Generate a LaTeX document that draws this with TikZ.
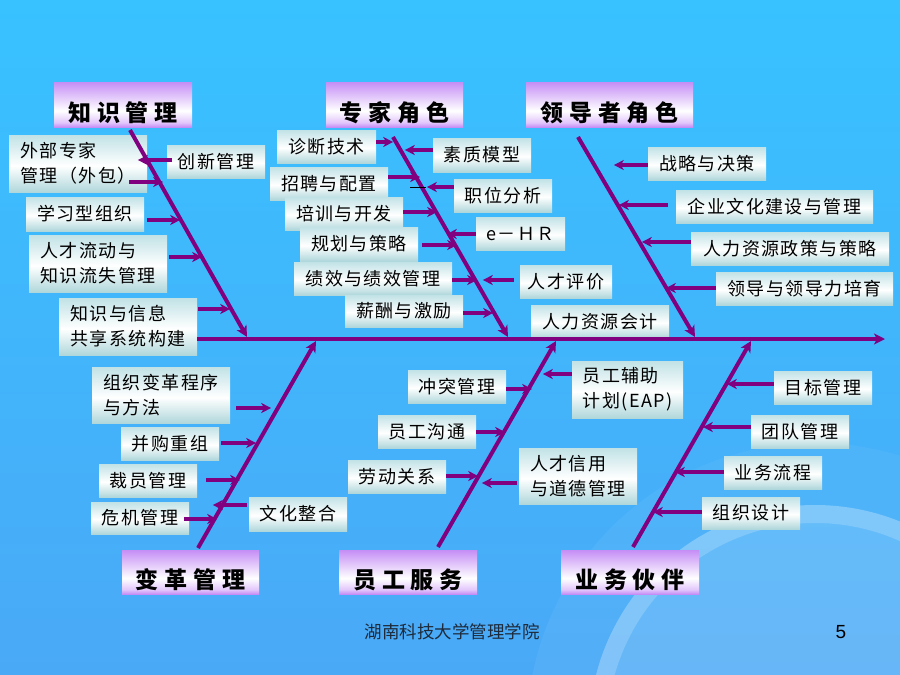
\documentclass[tikz,border=0pt]{standalone}
\usepackage{fontspec}
\usetikzlibrary{arrows.meta,calc}
\newfontfamily\cjk[LetterSpace=8]{Noto Sans CJK SC}
\newfontfamily\cjkt[LetterSpace=25]{Noto Sans CJK SC}
\newfontfamily\cjkf{Noto Sans CJK SC}
\newfontfamily\latf{Liberation Sans}
\definecolor{bgtop}{HTML}{38C2FF}
\definecolor{bgbot}{HTML}{4AA9F7}
\definecolor{fish}{HTML}{800080}
\definecolor{tp}{HTML}{C58EF6}
\definecolor{tpl}{HTML}{E2C6FB}
\definecolor{cbt}{HTML}{C1E2E6}
\definecolor{cbb}{HTML}{B0D7DB}
\definecolor{foot}{HTML}{1E2A3A}
\pgfdeclareverticalshading{titleshade}{100bp}{color(0bp)=(tp); color(25bp)=(tp); color(30bp)=(tpl); color(43bp)=(white); color(75bp)=(tp); color(100bp)=(tp)}
\pgfdeclareverticalshading{boxshade}{100bp}{color(0bp)=(cbb); color(25bp)=(cbb); color(48bp)=(white); color(75bp)=(cbt); color(100bp)=(cbt)}
\tikzset{
  cbox/.style={shading=boxshade, inner sep=0pt, minimum height=33pt, font=\cjk\fontsize{18}{25}\selectfont, align=left, text=black},
  tbox/.style={shading=titleshade, inner sep=0pt, minimum height=45pt, font=\cjkt\bfseries\fontsize{23}{26}\selectfont, text=black},
  bone/.style={draw=fish, line width=4pt, -{Stealth[length=11pt,width=11pt,inset=3pt]}},
  arr/.style={draw=fish, line width=4pt, -{Stealth[length=10pt,width=10pt,inset=3pt]}},
}
\begin{document}
\begin{tikzpicture}[x=1pt,y=-1pt]
\useasboundingbox (0,0) rectangle (900,675);
% background
\fill[top color=bgtop, bottom color=bgbot] (0,0) rectangle (900,675);
\begin{scope}
  \clip (0,0) rectangle (900,675);
  \fill[white, opacity=0.05] (815,731) circle (288pt);
  \fill[white, opacity=0.28, even odd rule] (815,731) circle (226pt) (815,731) circle (208pt);
  \fill[white, opacity=0.12] (815,731) circle (208pt);
\end{scope}

% titles
\node[tbox, minimum width=138pt] (t1) at (123,104.5) {\raisebox{-8pt}[\height][\depth]{知识管理}};
\node[tbox, minimum width=137pt] (t2) at (394.5,104.5) {\raisebox{-8pt}[\height][\depth]{专家角色}};
\node[tbox, minimum width=167pt] (t3) at (609.5,104.5) {\raisebox{-8pt}[\height][\depth]{领导者角色}};
\node[tbox, minimum width=137pt, minimum height=44pt] (t4) at (190.5,572) {\raisebox{-8pt}[\height][\depth]{变革管理}};
\node[tbox, minimum width=138pt, minimum height=44pt] (t5) at (408,572) {\raisebox{-8pt}[\height][\depth]{员工服务}};
\node[tbox, minimum width=138pt, minimum height=44pt] (t6) at (630,572) {\raisebox{-8pt}[\height][\depth]{业务伙伴}};

% knowledge management boxes
\node[cbox, minimum width=138pt, minimum height=57pt] (a1) at (78,163.5) {外部专家\\管理（外包）};
\node[cbox, minimum width=98pt] (a2) at (216,161.5) {创新管理};
\node[cbox, minimum width=118pt, minimum height=34pt] (a3) at (85,214) {学习型组织};
\node[cbox, minimum width=138pt, minimum height=57pt] (a4) at (98,263.5) {人才流动与\\知识流失管理};
\node[cbox, minimum width=138pt, minimum height=57pt] (a5) at (128,326.5) {知识与信息\\共享系统构建};

% expert role boxes
\node[cbox, minimum width=99pt] (b1) at (326.5,146.5) {诊断技术};
\node[cbox, minimum width=98pt, minimum height=34pt] (b2) at (482,155) {素质模型};
\node[cbox, minimum width=118pt] (b3) at (329,183.5) {招聘与配置};
\node[cbox, minimum width=98pt] (b4) at (503,195.5) {职位分析};
\node[cbox, minimum width=118pt] (b5) at (344,213.5) {培训与开发};
\node[cbox, minimum width=89pt] (b6) at (520.5,233.5) {e－ＨＲ};
\node[cbox, minimum width=118pt, minimum height=34pt] (b7) at (359,244) {规划与策略};
\node[cbox, minimum width=158pt] (b8) at (373,278.5) {绩效与绩效管理};
\node[cbox, minimum width=92pt] (b9) at (566,281.5) {人才评价};
\node[cbox, minimum width=118pt, minimum height=32pt] (b10) at (404,311) {薪酬与激励};
\node[cbox, minimum width=138pt] (b11) at (600,321.5) {人力资源会计};

% leader role boxes
\node[cbox, minimum width=118pt] (c1) at (707,163.5) {战略与决策};
\node[cbox, minimum width=197pt] (c2) at (774.5,206.5) {企业文化建设与管理};
\node[cbox, minimum width=198pt] (c3) at (790,248.5) {人力资源政策与策略};
\node[cbox, minimum width=177pt] (c4) at (804.5,288.5) {领导与领导力培育};

% change management boxes
\node[cbox, minimum width=138pt, minimum height=56pt] (d1) at (161,395) {组织变革程序\\与方法};
\node[cbox, minimum width=98pt] (d2) at (170,443.5) {并购重组};
\node[cbox, minimum width=98pt] (d3) at (148,480.5) {裁员管理};
\node[cbox, minimum width=98pt, minimum height=32pt] (d4) at (140,518) {危机管理};
\node[cbox, minimum width=98pt, minimum height=34pt] (d5) at (298,514) {文化整合};

% employee service boxes
\node[cbox, minimum width=98pt] (e1) at (457,386.5) {冲突管理};
\node[cbox, minimum width=111pt, minimum height=57pt] (e2) at (627.5,389.5) {员工辅助\\计划(EAP)};
\node[cbox, minimum width=98pt] (e3) at (427,431.5) {员工沟通};
\node[cbox, minimum width=98pt] (e4) at (397,476.5) {劳动关系};
\node[cbox, minimum width=118pt, minimum height=56pt] (e5) at (578,476) {人才信用\\与道德管理};

% business partner boxes
\node[cbox, minimum width=98pt] (f1) at (823,387.5) {目标管理};
\node[cbox, minimum width=98pt] (f2) at (800,431.5) {团队管理};
\node[cbox, minimum width=98pt] (f3) at (773,472.5) {业务流程};
\node[cbox, minimum width=98pt, minimum height=32pt] (f4) at (751,513) {组织设计};

% spine and bones
\coordinate (s1) at (885,339);
\draw[bone] (a5.east |- s1) -- (s1);
\coordinate (k1a) at (130,130); \coordinate (k1b) at (247,337);
\coordinate (k2a) at (393,137); \coordinate (k2b) at (508,337);
\coordinate (k3a) at (578,137); \coordinate (k3b) at (695,337);
\coordinate (k4a) at (198,548); \coordinate (k4b) at (316,341);
\coordinate (k5a) at (438,547); \coordinate (k5b) at (556,341);
\coordinate (k6a) at (633,547); \coordinate (k6b) at (751,341);
\draw[bone] (k1a) -- (k1b);
\draw[bone] (k2a) -- (k2b);
\draw[bone] (k3a) -- (k3b);
\draw[bone] (k4a) -- (k4b);
\draw[bone] (k5a) -- (k5b);
\draw[bone] (k6a) -- (k6b);

% small arrows: knowledge management
\draw[arr] ($(a1.east)+(-18,18.5)$) -- ++(34,0);
\draw[arr] ($(a2.west)+(5,-1.5)$) -- ++(-34,0);
\draw[arr] ($(a3.east)+(3,6)$) -- ++(33,0);
\draw[arr] ($(a4.east)+(2,-6.5)$) -- ++(33,0);
\draw[arr] ($(a5.east)+(1,-17.5)$) -- ++(32,0);

% expert role
\draw[arr] ($(b1.east)+(0,-4.5)$) -- ++(17,0);
\draw[arr] ($(b2.west)+(0,-5)$) -- ++(-28,0);
\draw[arr] ($(b3.east)+(0,-6.5)$) -- ++(32,0);
\draw[arr] ($(b4.west)+(0,-8.5)$) -- ++(-27,0);
\coordinate (dash1) at (410,187); \coordinate (dash2) at (426,187);
\draw[black, line width=0.8pt] (dash1) -- (dash2);
\draw[arr] ($(b5.east)+(0,-1.5)$) -- ++(34,0);
\draw[arr] ($(b6.west)+(0,0.5)$) -- ++(-29,0);
\draw[arr] ($(b7.east)+(4,1)$) -- ++(35,0);
\draw[arr] ($(b8.east)+(0,1.5)$) -- ++(25,0);
\draw[arr] ($(b9.west)+(-6,-1.5)$) -- ++(-31,0);
\draw[arr] ($(b10.east)+(0,2)$) -- ++(30,0);

% leader role
\draw[arr] ($(c1.west)+(0,1.5)$) -- ++(-34,0);
\draw[arr] ($(c2.west)+(-8,-1.5)$) -- ++(-49,0);
\draw[arr] ($(c3.west)+(0,-6.5)$) -- ++(-49,0);
\draw[arr] ($(c4.west)+(0,-0.5)$) -- ++(-50,0);

% change management
\draw[arr] ($(d1.east)+(6,13)$) -- ++(35,0);
\draw[arr] ($(d2.east)+(2,-0.5)$) -- ++(35,0);
\draw[arr] ($(d3.east)+(9,-0.5)$) -- ++(34,0);
\draw[arr] ($(d4.east)+(-5,1)$) -- ++(33,0);
\draw[arr] ($(d5.west)+(-2,-9)$) -- ++(-34,0);

% employee service
\draw[arr] ($(e1.east)+(0,2.5)$) -- ++(26,0);
\draw[arr] ($(e2.west)+(0,-15.5)$) -- ++(-29,0);
\draw[arr] ($(e3.east)+(0,0.5)$) -- ++(29,0);
\draw[arr] ($(e4.east)+(0,-0.5)$) -- ++(32,0);
\draw[arr] ($(e5.west)+(-2,7)$) -- ++(-35,0);

% business partner
\draw[arr] ($(f1.west)+(0,-3.5)$) -- ++(-47,0);
\draw[arr] ($(f2.west)+(0,-4.5)$) -- ++(-48,0);
\draw[arr] ($(f3.west)+(0,-0.5)$) -- ++(-49,0);
\draw[arr] ($(f4.west)+(0,-1)$) -- ++(-49,0);

% footer
\node[font=\cjkf\fontsize{17.5}{20}\selectfont, text=foot] (ft) at (452,632) {湖南科技大学管理学院};
\node[font=\latf\fontsize{19}{22}\selectfont, text=black] (pg) at (841,632) {5};
\end{tikzpicture}
\end{document}
